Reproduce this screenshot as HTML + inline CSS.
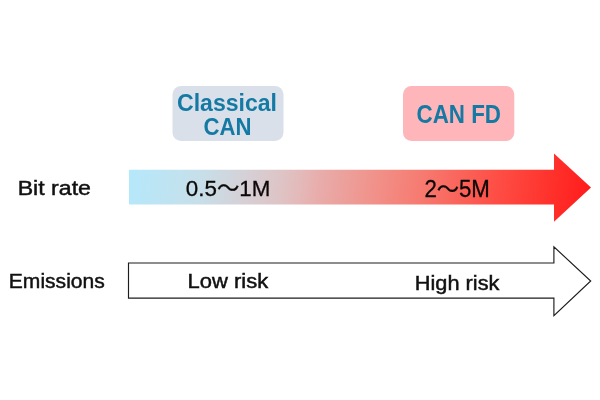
<!DOCTYPE html>
<html lang="en">
<head>
<meta charset="utf-8">
<title>CAN bit rate vs emissions</title>
<style>
  html,body{margin:0;padding:0;background:#fff;}
  body{width:600px;height:400px;overflow:hidden;position:relative;}
  svg{position:absolute;left:0;top:0;display:block;}
  .lbl{font-family:"Liberation Sans","Noto Sans CJK JP",sans-serif;fill:#111;stroke:#111;stroke-width:0.45px;}
  .num{font-family:"Liberation Sans","Noto Sans CJK JP",sans-serif;fill:#0c0808;stroke:#0c0808;stroke-width:0.3px;}
  .hd{font-family:"Liberation Sans","Noto Sans CJK JP",sans-serif;font-weight:bold;fill:#147aa3;}
</style>
</head>
<body>
<svg width="600" height="400" viewBox="0 0 600 400">
  <defs>
    <linearGradient id="g" gradientUnits="userSpaceOnUse" x1="129" y1="187" x2="582" y2="250.6">
      <stop offset="0" stop-color="rgb(181,232,251)"/>
      <stop offset="0.154" stop-color="rgb(199,223,233)"/>
      <stop offset="0.24" stop-color="rgb(212,210,216)"/>
      <stop offset="0.327" stop-color="rgb(222,196,198)"/>
      <stop offset="0.37" stop-color="rgb(228,185,185)"/>
      <stop offset="0.413" stop-color="rgb(232,172,170)"/>
      <stop offset="0.52" stop-color="rgb(240,148,141)"/>
      <stop offset="0.63" stop-color="rgb(246,123,113)"/>
      <stop offset="0.78" stop-color="rgb(253,82,73)"/>
      <stop offset="0.93" stop-color="rgb(255,45,40)"/>
      <stop offset="1" stop-color="rgb(255,28,28)"/>
    </linearGradient>
  </defs>

  <!-- header boxes -->
  <rect x="172.5" y="86" width="111" height="55" rx="8.5" ry="8.5" fill="#d9e0ea"/>
  <rect x="403" y="86" width="111.3" height="55" rx="8.5" ry="8.5" fill="#ffb6bb"/>

  <text class="hd" x="177" y="110.6" font-size="24.6" textLength="100" lengthAdjust="spacingAndGlyphs">Classical</text>
  <text class="hd" x="203.5" y="134.6" font-size="24.6" textLength="48" lengthAdjust="spacingAndGlyphs">CAN</text>
  <text class="hd" x="416.5" y="123" font-size="24.9" textLength="84.5" lengthAdjust="spacingAndGlyphs">CAN FD</text>

  <!-- red gradient arrow -->
  <polygon points="129,169.7 554,169.7 554,153.5 591,187.5 554,221.8 554,204.5 129,204.5" fill="url(#g)"/>

  <!-- outline arrow -->
  <polygon points="128.5,263 553.9,263 553.9,246.8 590.7,281 553.9,315.6 553.9,298.1 128.5,298.1" fill="#fff" stroke="#1c1c1c" stroke-width="1.15" stroke-linejoin="miter"/>

  <text class="lbl" x="17.7" y="194.6" font-size="20" textLength="73.3" lengthAdjust="spacingAndGlyphs">Bit rate</text>
  <text class="lbl" x="8.8" y="288" font-size="19.5" textLength="96" lengthAdjust="spacingAndGlyphs">Emissions</text>
  <text class="lbl" x="187.6" y="288" font-size="19.5" textLength="80.6" lengthAdjust="spacingAndGlyphs">Low risk</text>
  <text class="lbl" x="414.8" y="289.6" font-size="19.5" textLength="84.6" lengthAdjust="spacingAndGlyphs">High risk</text>

  <text class="num" x="185.8" y="196.1" font-size="22.7" textLength="84.5" lengthAdjust="spacingAndGlyphs">0.5～1M</text>
  <text class="num" x="424.4" y="196.6" font-size="23.2" textLength="65.5" lengthAdjust="spacingAndGlyphs">2～5M</text>
</svg>
</body>
</html>
